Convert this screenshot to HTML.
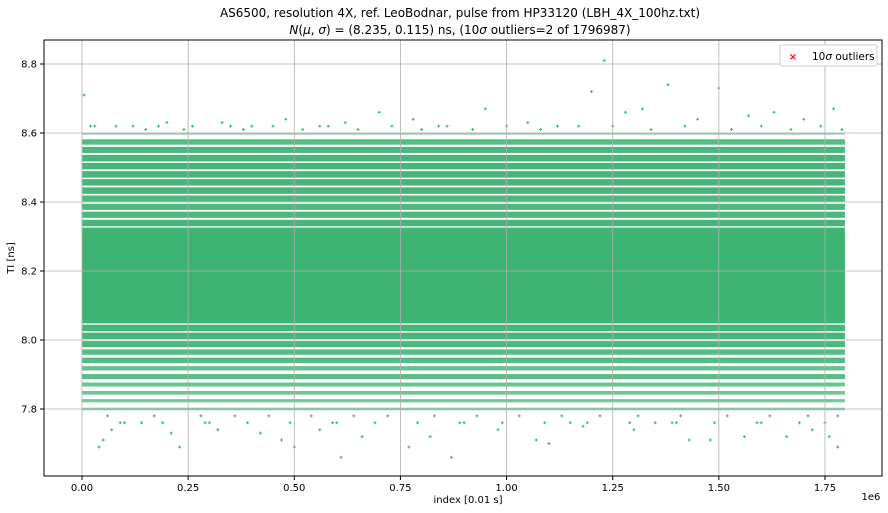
<!DOCTYPE html>
<html><head><meta charset="utf-8"><style>
body{margin:0;background:#fff;}
svg{display:block;font-family:"DejaVu Sans","Liberation Sans",sans-serif;}
</style></head><body>
<svg id="chart" width="888" height="513" viewBox="0 0 888 513">
<rect width="888" height="513" fill="#fff"/>
<text x="460" y="17" font-size="12" text-anchor="middle">AS6500, resolution 4X, ref. LeoBodnar, pulse from HP33120 (LBH_4X_100hz.txt)</text>
<text x="460" y="34" font-size="12" text-anchor="middle"><tspan font-style="italic">N</tspan>(<tspan font-style="italic">μ</tspan>, <tspan font-style="italic">σ</tspan>) = (8.235, 0.115) ns, (10<tspan font-style="italic">σ</tspan> outliers=2 of 1796987)</text>
<g id="marks"></g>
<g id="grid"></g>
<g id="axes"></g>
<rect x="44" y="40" width="838" height="436" fill="none" stroke="#000" stroke-width="1"/>
<g>
<rect x="780" y="45" width="97" height="21" rx="2" fill="#fff" stroke="#ccc"/>
<text x="793" y="60" font-size="10" fill="red" text-anchor="middle" font-weight="bold">×</text>
<text x="812" y="60" font-size="10.5">10<tspan font-style="italic">σ</tspan> outliers</text>
</g>
<text x="468" y="503" font-size="10" text-anchor="middle">index [0.01 s]</text>
<text x="871" y="500" font-size="10" text-anchor="middle">1e6</text>
<text x="14" y="258" font-size="10" text-anchor="middle" transform="rotate(-90 14 258)">TI [ns]</text>
</svg>
<script>
const xTicks=[0,0.25,0.5,0.75,1.0,1.25,1.5,1.75];
const xTickLabels=["0.00","0.25","0.50","0.75","1.00","1.25","1.50","1.75"];
const yTicks=[7.8,8.0,8.2,8.4,8.6,8.8];
const yTickLabels=["7.8","8.0","8.2","8.4","8.6","8.8"];
const nPoints=1796987;
const coreLow=8.06, coreHigh=8.31;
const bandLevels=[8.598,8.574,8.551,8.527,8.504,8.480,8.457,8.433,8.410,8.386,8.363,8.339,8.316,
  8.058,8.035,8.012,7.988,7.965,7.941,7.918,7.894,7.871,7.847,7.824,7.800];
const bandDensity=[0.25,0.75,0.85,0.9,0.9,0.9,0.9,0.9,0.85,0.85,0.85,0.9,0.95,
  0.95,0.9,0.9,0.85,0.75,0.75,0.6,0.7,0.55,0.5,0.45,0.35];
const outlierIdx=[0.005,0.03,0.12,0.2,0.26,0.33,0.4,0.48,0.56,0.62,0.7,0.78,0.86,0.95,1.05,1.12,1.2,1.23,1.28,1.32,1.38,1.45,1.5,1.57,1.63,1.7,1.77,
  0.04,0.05,0.07,0.14,0.21,0.23,0.32,0.42,0.47,0.5,0.56,0.61,0.66,0.77,0.82,0.87,0.98,1.07,1.1,1.18,1.3,1.35,1.43,1.48,1.56,1.66,1.72,1.76,1.78,
  0.1,0.3,0.6,0.9,1.15,1.4,1.6,0.02,0.08,0.15,0.18,0.24,0.35,0.38,0.45,0.52,0.58,0.65,0.73,0.8,0.84,0.92,1.0,1.08,1.17,1.25,1.34,1.42,1.53,1.6,1.67,1.74,1.79,
  0.06,0.17,0.28,0.36,0.44,0.54,0.64,0.72,0.83,0.93,1.03,1.13,1.22,1.31,1.41,1.52,1.62,1.71,1.78,
  0.09,0.19,0.29,0.39,0.49,0.59,0.69,0.79,0.89,0.99,1.09,1.19,1.29,1.39,1.49,1.59,1.69,1.75];
const outlierVal=[8.71,8.62,8.62,8.63,8.62,8.63,8.62,8.64,8.62,8.63,8.66,8.64,8.62,8.67,8.63,8.62,8.72,8.81,8.66,8.67,8.74,8.64,8.73,8.65,8.66,8.64,8.67,
  7.69,7.71,7.74,7.76,7.73,7.69,7.74,7.73,7.71,7.69,7.74,7.66,7.72,7.69,7.72,7.66,7.74,7.71,7.70,7.75,7.74,7.76,7.71,7.71,7.72,7.72,7.74,7.72,7.69,
  7.76,7.76,7.76,7.76,7.76,7.76,7.76,8.62,8.62,8.61,8.62,8.61,8.62,8.61,8.62,8.61,8.62,8.61,8.62,8.61,8.62,8.61,8.62,8.61,8.62,8.62,8.61,8.62,8.61,8.62,8.61,8.62,8.61,
  7.78,7.78,7.78,7.78,7.78,7.78,7.78,7.78,7.78,7.78,7.78,7.78,7.78,7.78,7.78,7.78,7.78,7.78,7.78,
  7.76,7.76,7.76,7.76,7.76,7.76,7.76,7.76,7.76,7.76,7.76,7.76,7.76,7.76,7.76,7.76,7.76,7.76];
const NS='http://www.w3.org/2000/svg';
function xs(v){return 82+v/0.25*106.14;}
function ys(v){return 271-(v-8.2)*345;}
function mk(tag,attrs,parent){const e=document.createElementNS(NS,tag);for(const k in attrs)e.setAttribute(k,attrs[k]);parent.appendChild(e);return e;}
const grid=document.getElementById('grid'),axes=document.getElementById('axes'),marks=document.getElementById('marks');
xTicks.forEach((t,i)=>{
  const g=mk('line',{x1:xs(t),x2:xs(t),y1:40,y2:476,stroke:'#b0b0b0','stroke-width':0.8},grid);
  
  
  const tk=mk('line',{x1:xs(t),x2:xs(t),y1:476,y2:480,stroke:'#000'},axes);
  
  
  const l=mk('text',{x:xs(t),y:491,'font-size':10,'text-anchor':'middle'},axes);
  l.textContent=xTickLabels[i];
  
  
});
yTicks.forEach((t,i)=>{
  const g=mk('line',{x1:44,x2:882,y1:ys(t),y2:ys(t),stroke:'#b0b0b0','stroke-width':0.8},grid);
  
  
  const tk=mk('line',{x1:40,x2:44,y1:ys(t),y2:ys(t),stroke:'#000'},axes);
  
  
  const l=mk('text',{x:37,y:ys(t)+3.5,'font-size':10,'text-anchor':'end'},axes);
  l.textContent=yTickLabels[i];
  
  
});
const x0=xs(0), x1=xs(nPoints/1e6);
const core=mk('rect',{x:x0,y:ys(coreHigh),width:x1-x0,height:ys(coreLow)-ys(coreHigh),fill:'mediumseagreen'},marks);


bandLevels.forEach((v,i)=>{
  const d=bandDensity[i];
  const h=Math.max(1.5,7.2*d);
  const r=mk('rect',{x:x0,y:ys(v)-h/2,width:x1-x0,height:h,fill:'mediumseagreen','fill-opacity':0.5+0.5*d},marks);
  
  
});
outlierIdx.forEach((v,i)=>{
  const cx=xs(v), cy=ys(outlierVal[i]);
  const p=mk('path',{d:`M${cx-1.5},${cy}h3M${cx},${cy-1.5}v3`,stroke:'mediumseagreen','stroke-width':1},marks);
  
  
});
</script>
</body></html>
